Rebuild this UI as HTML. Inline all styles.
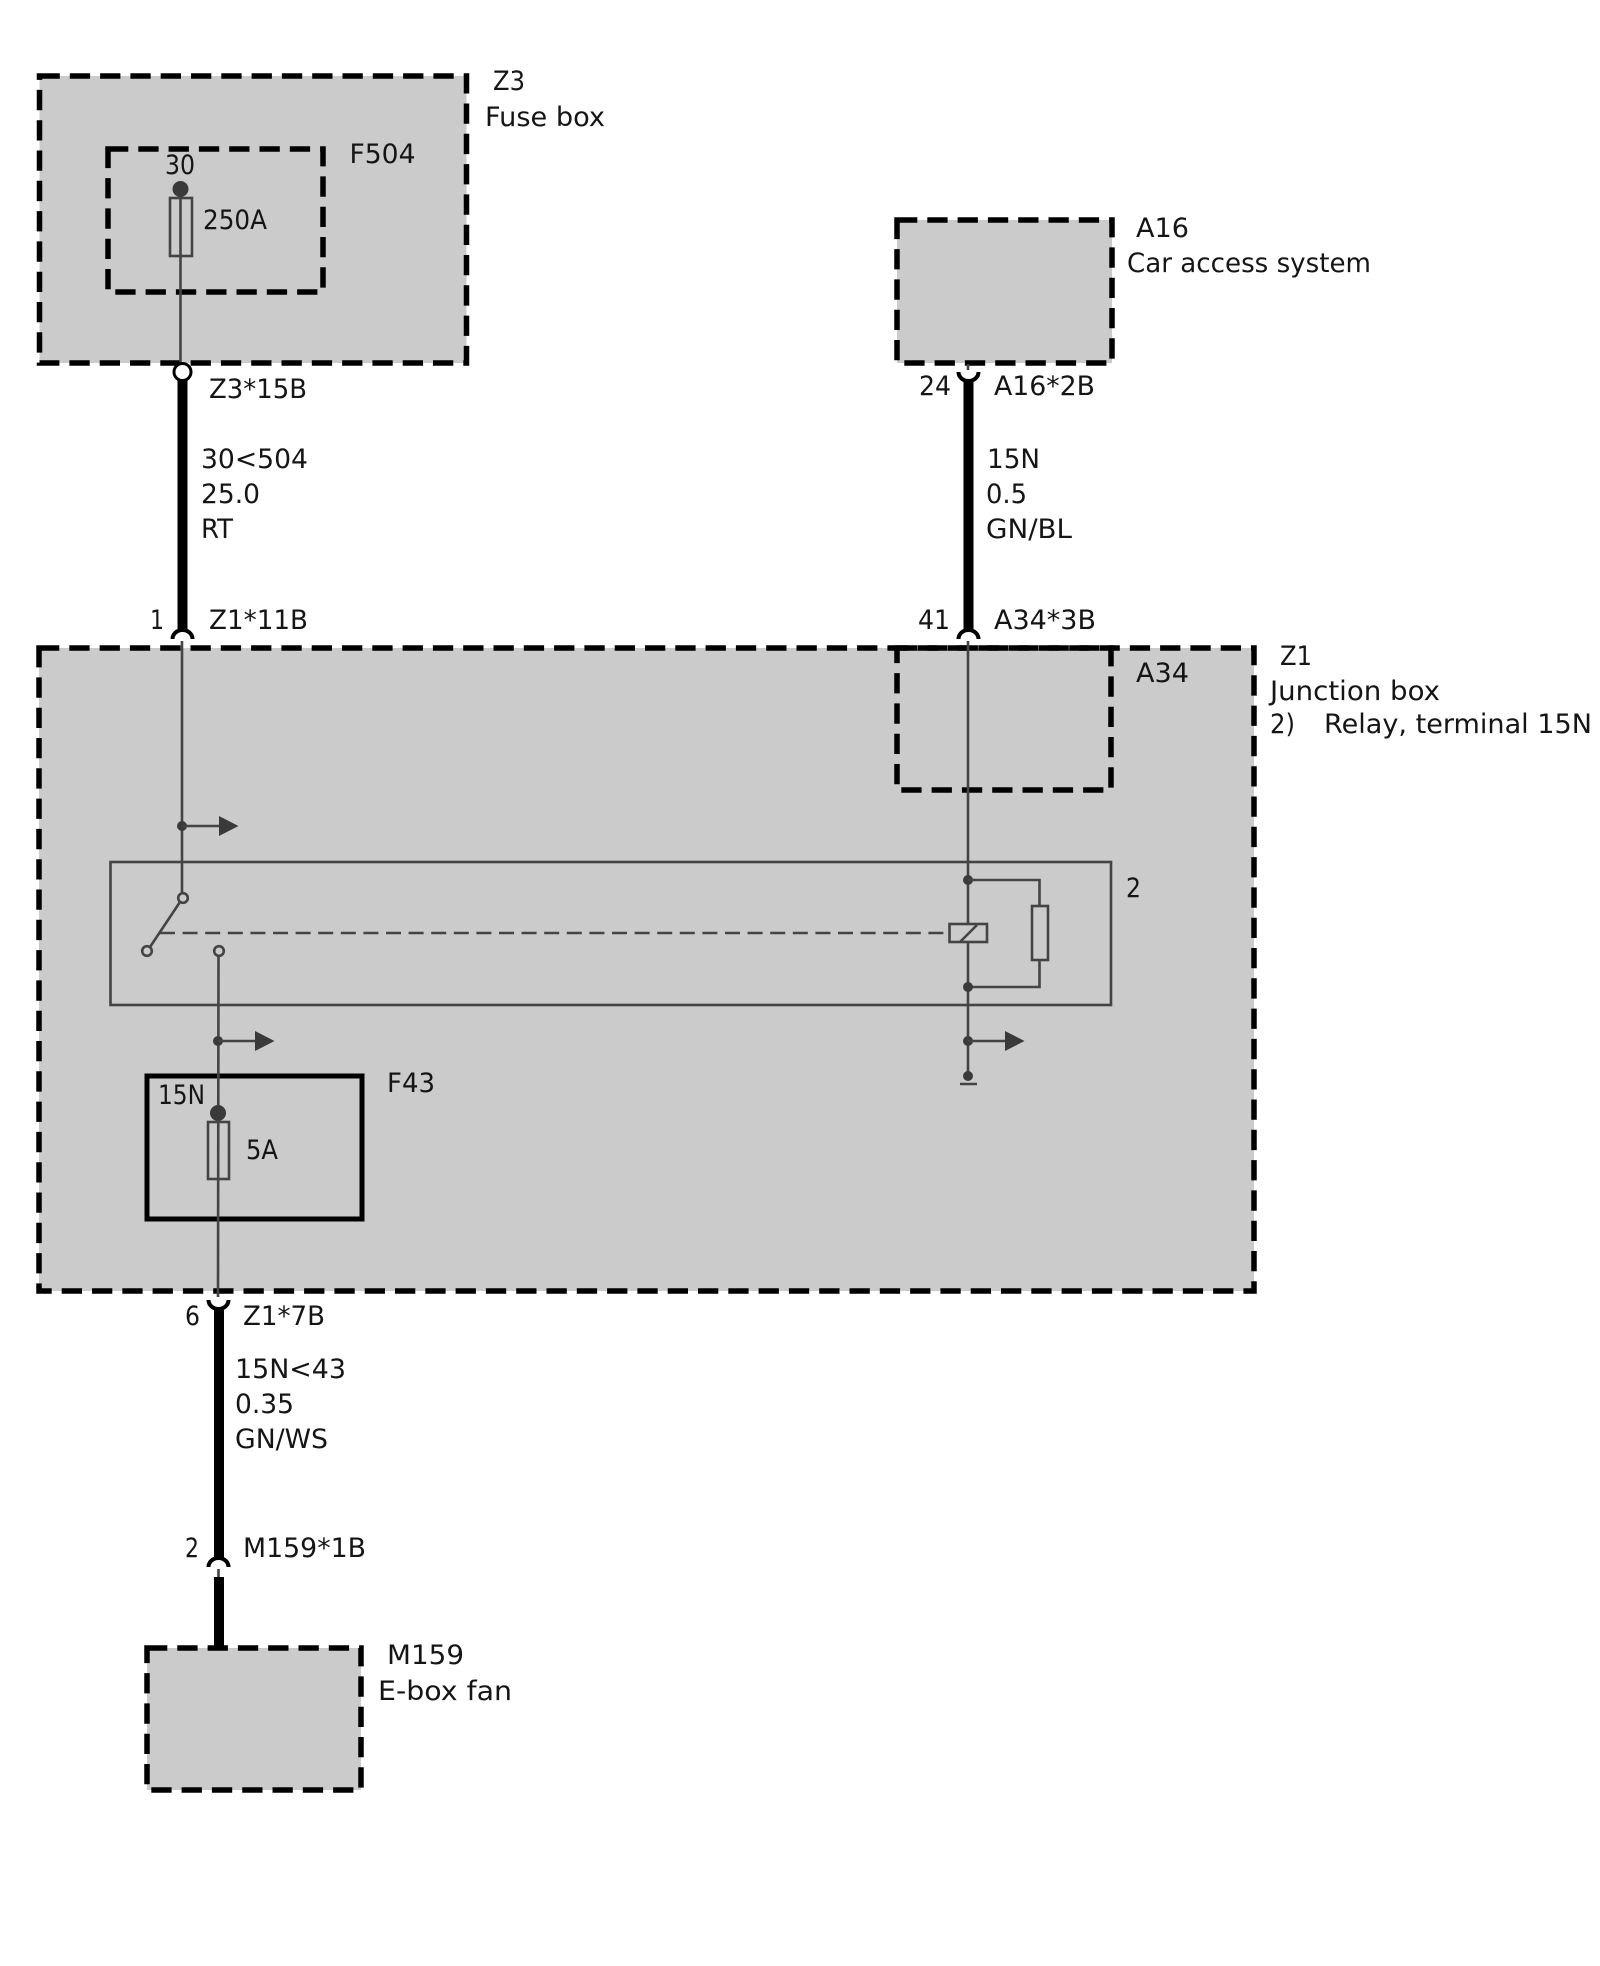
<!DOCTYPE html>
<html><head><meta charset="utf-8"><style>
html,body{margin:0;padding:0;background:#fff}
svg{display:block}
text{font-family:"DejaVu Sans","Liberation Sans",sans-serif;font-size:26.5px;fill:#151515}
.box{fill:#cbcbcb;stroke:#000;stroke-width:5.5;stroke-dasharray:20.3 10}
.in{fill:none;stroke:#000;stroke-width:5.5;stroke-dasharray:20.3 10}
.w{stroke:#444;stroke-width:2.6;fill:none}
.t{stroke:#000;stroke-width:10;fill:none}
.c{stroke:#000;stroke-width:4;fill:none}
.d{fill:#3a3a3a}
</style></head><body>
<svg xmlns="http://www.w3.org/2000/svg" width="1600" height="1966" viewBox="0 0 1600 1966">
<rect width="1600" height="1966" fill="#fff"/>

<!-- Boxes -->
<rect class="box" x="39.5" y="76" width="427" height="287"/>
<rect class="in" x="108" y="149" width="215" height="143"/>
<rect class="box" x="897" y="220" width="215" height="143"/>
<rect class="box" x="39" y="648" width="1215" height="643"/>
<rect class="in" x="897" y="648" width="214" height="142"/>
<rect class="box" x="147" y="1648" width="214" height="142"/>
<rect x="110.500" y="862" width="1000.500" height="143" fill="none" stroke="#444" stroke-width="2.600"/>
<rect x="147" y="1076" width="215" height="143" fill="none" stroke="#000" stroke-width="5"/>

<!-- Z3 / F504 -->
<line class="w" x1="180.500" y1="190" x2="180.500" y2="364"/>
<circle class="d" cx="180.500" cy="189" r="8"/>
<rect x="170" y="198" width="22" height="58" fill="none" stroke="#444" stroke-width="2.600"/>
<line class="t" x1="182.500" y1="378" x2="182.500" y2="630"/>
<circle cx="182.500" cy="372" r="8.500" fill="#fff" stroke="#000" stroke-width="3"/>

<!-- Left wire in Z1 -->
<path class="c" d="M172.500 639 A10 9 0 0 1 192.500 639"/>
<line class="w" x1="182" y1="641" x2="182" y2="893"/>
<circle class="d" cx="182" cy="826" r="5"/>
<line class="w" x1="182" y1="826" x2="220" y2="826"/>
<path class="d" d="M219 816 L238.500 826 L219 836 Z"/>
<circle cx="183" cy="898" r="4.800" fill="none" stroke="#444" stroke-width="2.600"/>
<line class="w" x1="180" y1="902" x2="150" y2="947"/>
<circle cx="147" cy="951" r="4.800" fill="none" stroke="#444" stroke-width="2.600"/>
<line x1="160" y1="933" x2="946" y2="933" stroke="#444" stroke-width="2.600" stroke-dasharray="15 7.600"/>
<circle cx="219" cy="951" r="4.800" fill="none" stroke="#444" stroke-width="2.600"/>
<line class="w" x1="218.500" y1="956" x2="218" y2="1297"/>
<circle class="d" cx="218" cy="1041" r="5"/>
<line class="w" x1="218" y1="1041" x2="256" y2="1041"/>
<path class="d" d="M255 1031 L274.500 1041 L255 1051 Z"/>
<circle class="d" cx="218" cy="1113" r="8"/>
<rect x="208" y="1122" width="21" height="57" fill="none" stroke="#444" stroke-width="2.600"/>

<!-- A16 wire -->
<line class="w" x1="968" y1="364" x2="968" y2="370"/>
<path class="c" d="M958.500 372 A10 9 0 0 0 978.500 372"/>
<line class="t" x1="968.500" y1="380" x2="968.500" y2="630"/>
<path class="c" d="M958.500 639 A10 9 0 0 1 978.500 639"/>
<line class="w" x1="968" y1="641" x2="968" y2="1076"/>

<!-- Relay right -->
<circle class="d" cx="968" cy="880" r="5"/>
<path class="w" d="M968 880 H1039.500 V906"/>
<rect x="1032" y="906" width="16" height="54" fill="none" stroke="#444" stroke-width="2.600"/>
<path class="w" d="M1039.500 960 V987 H968"/>
<circle class="d" cx="968" cy="987" r="5"/>
<rect x="949.500" y="924" width="37.500" height="18" fill="#cbcbcb" stroke="#444" stroke-width="2.600"/>
<line class="w" x1="960" y1="942" x2="977" y2="925"/>
<circle class="d" cx="968" cy="1041" r="5"/>
<line class="w" x1="968" y1="1041" x2="1006" y2="1041"/>
<path class="d" d="M1005 1031 L1024.500 1041 L1005 1051 Z"/>
<circle class="d" cx="968" cy="1076" r="5"/>
<line class="w" x1="960" y1="1084" x2="977" y2="1084"/>

<!-- Lower wire -->
<path class="c" d="M208.500 1300 A10 9 0 0 0 228.500 1300"/>
<line class="t" x1="219" y1="1307" x2="219" y2="1560"/>
<path class="c" d="M208.500 1567 A10 9 0 0 1 228.500 1567"/>
<line class="w" x1="218.500" y1="1569" x2="218.500" y2="1577"/>
<line class="t" x1="219" y1="1577" x2="219" y2="1647"/>

<!-- Labels -->
<text x="493" y="90" textLength="32" lengthAdjust="spacingAndGlyphs">Z3</text>
<text x="485" y="126" textLength="120" lengthAdjust="spacingAndGlyphs">Fuse box</text>
<text x="349.500" y="163" textLength="66" lengthAdjust="spacingAndGlyphs">F504</text>
<text x="165" y="174" textLength="30" lengthAdjust="spacingAndGlyphs">30</text>
<text x="203" y="229" textLength="64" lengthAdjust="spacingAndGlyphs">250A</text>
<text x="209" y="398" textLength="98" lengthAdjust="spacingAndGlyphs">Z3*15B</text>
<text x="201" y="468" textLength="107" lengthAdjust="spacingAndGlyphs">30&lt;504</text>
<text x="201" y="503" textLength="59" lengthAdjust="spacingAndGlyphs">25.0</text>
<text x="201" y="538" textLength="32" lengthAdjust="spacingAndGlyphs">RT</text>
<text x="150" y="629" textLength="14" lengthAdjust="spacingAndGlyphs">1</text>
<text x="209" y="629" textLength="99" lengthAdjust="spacingAndGlyphs">Z1*11B</text>

<text x="1136" y="237" textLength="53" lengthAdjust="spacingAndGlyphs">A16</text>
<text x="1127" y="272" textLength="244" lengthAdjust="spacingAndGlyphs">Car access system</text>
<text x="919" y="395" textLength="32" lengthAdjust="spacingAndGlyphs">24</text>
<text x="994" y="395" textLength="101" lengthAdjust="spacingAndGlyphs">A16*2B</text>
<text x="987" y="468" textLength="53" lengthAdjust="spacingAndGlyphs">15N</text>
<text x="986" y="503" textLength="41" lengthAdjust="spacingAndGlyphs">0.5</text>
<text x="986" y="538" textLength="86" lengthAdjust="spacingAndGlyphs">GN/BL</text>
<text x="918" y="629" textLength="32" lengthAdjust="spacingAndGlyphs">41</text>
<text x="994" y="629" textLength="102" lengthAdjust="spacingAndGlyphs">A34*3B</text>
<text x="1136" y="682" textLength="53" lengthAdjust="spacingAndGlyphs">A34</text>

<text x="1280" y="665" textLength="32" lengthAdjust="spacingAndGlyphs">Z1</text>
<text x="1270" y="700" textLength="170" lengthAdjust="spacingAndGlyphs">Junction box</text>
<text x="1270" y="733" textLength="25" lengthAdjust="spacingAndGlyphs">2)</text>
<text x="1324" y="733" textLength="268" lengthAdjust="spacingAndGlyphs">Relay, terminal 15N</text>
<text x="1126" y="897" textLength="15" lengthAdjust="spacingAndGlyphs">2</text>

<text x="387" y="1092" textLength="48" lengthAdjust="spacingAndGlyphs">F43</text>
<text x="158" y="1104" textLength="47" lengthAdjust="spacingAndGlyphs">15N</text>
<text x="246" y="1159" textLength="32" lengthAdjust="spacingAndGlyphs">5A</text>

<text x="185" y="1325" textLength="15" lengthAdjust="spacingAndGlyphs">6</text>
<text x="243" y="1325" textLength="82" lengthAdjust="spacingAndGlyphs">Z1*7B</text>
<text x="235" y="1378" textLength="111" lengthAdjust="spacingAndGlyphs">15N&lt;43</text>
<text x="235" y="1413" textLength="59" lengthAdjust="spacingAndGlyphs">0.35</text>
<text x="235" y="1448" textLength="93" lengthAdjust="spacingAndGlyphs">GN/WS</text>
<text x="185" y="1557" textLength="14" lengthAdjust="spacingAndGlyphs">2</text>
<text x="243" y="1557" textLength="123" lengthAdjust="spacingAndGlyphs">M159*1B</text>
<text x="387" y="1664" textLength="77" lengthAdjust="spacingAndGlyphs">M159</text>
<text x="378" y="1700" textLength="134" lengthAdjust="spacingAndGlyphs">E-box fan</text>
</svg>
</body></html>
